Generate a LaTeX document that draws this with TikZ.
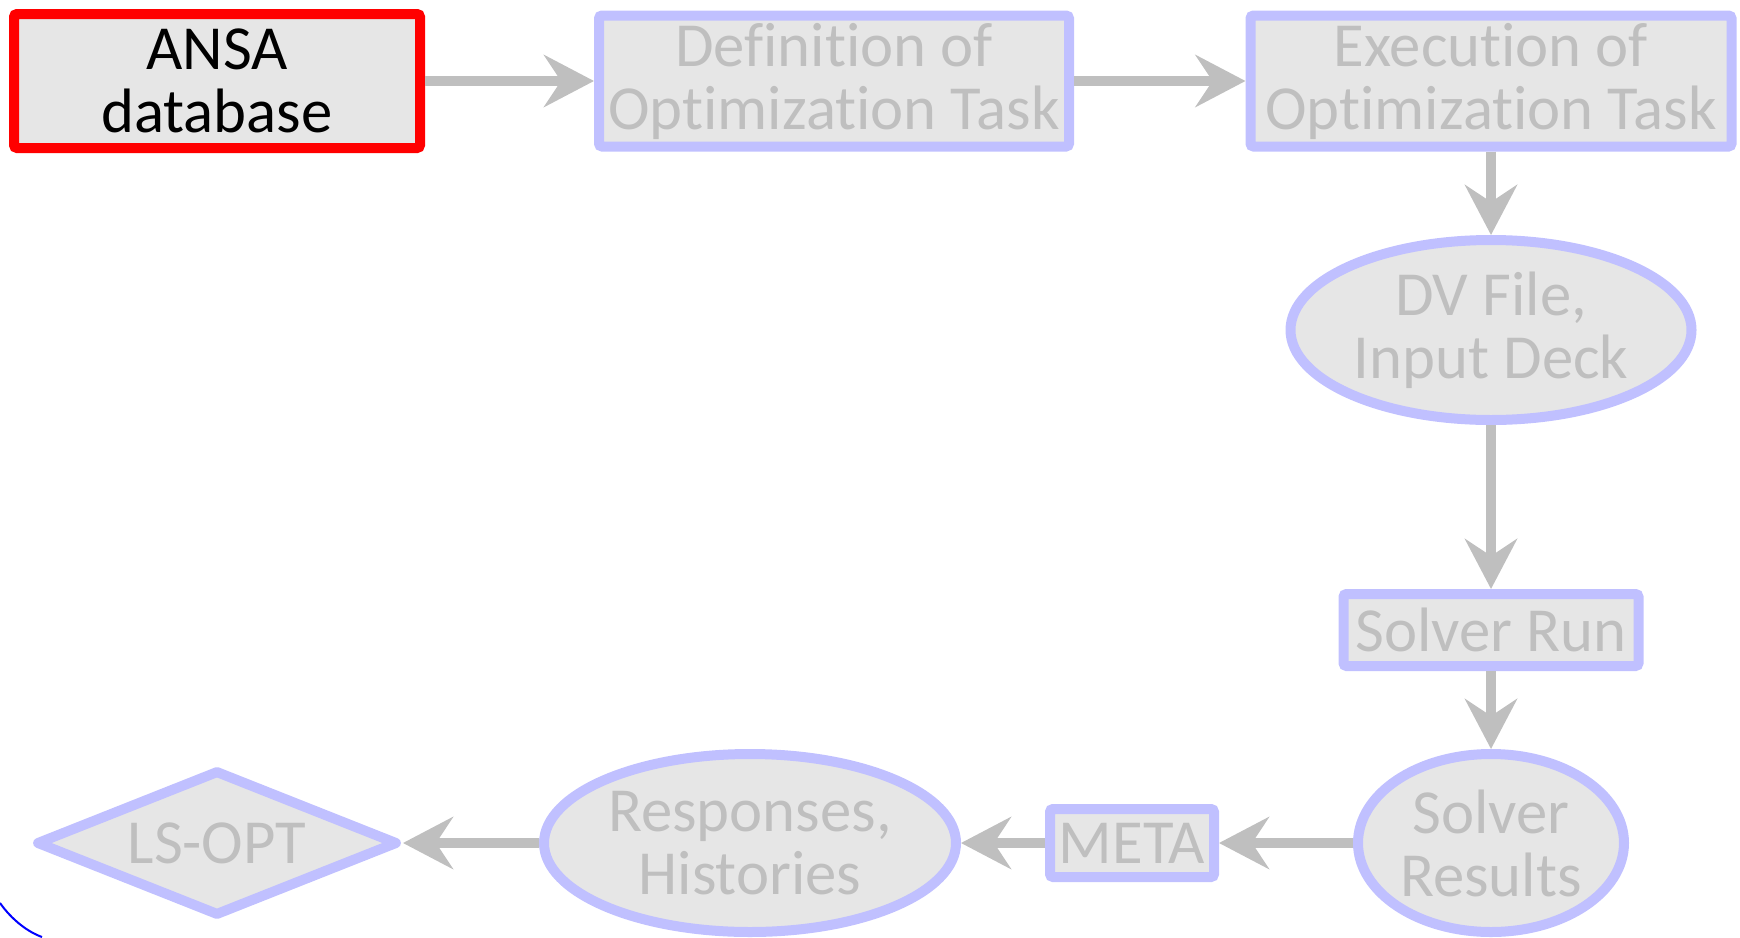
\documentclass[tikz,border=0pt]{standalone}
\usepackage{fontspec}
\setmainfont{Carlito}[Ligatures={NoCommon,NoContextual}, RawFeature={-liga;-clig;-calt}]
\usetikzlibrary{arrows.meta,shapes.geometric}
\definecolor{boxfill}{RGB}{230,230,230}
\definecolor{boxline}{RGB}{192,192,255}
\definecolor{flowgray}{RGB}{191,191,191}
\begin{document}
\begin{tikzpicture}[x=1pt, y=-1pt,
    every node/.style={font=\fontsize{62.7}{63}\selectfont, align=center, inner sep=0pt},
    task/.style={draw=boxline, line width=10pt, fill=boxfill, text=flowgray, rounded corners=3pt},
    oval/.style={ellipse, draw=boxline, line width=10pt, fill=boxfill, text=flowgray, inner sep=-3pt},
    flow/.style={draw=flowgray, line width=10pt, -{Stealth[length=50pt, width=52pt, inset=17pt]}}]
    \useasboundingbox (0,0) rectangle (1740,937);
    % Top row
    \node[task, draw=red, text=black, minimum width=406pt, minimum height=134pt] (ansa) at (217,81) {ANSA\\database};
    \node[task, minimum width=470pt, minimum height=131pt] (defn) at (834,81) {Definition of\\Optimization Task};
    \node[task, minimum width=481pt, minimum height=131pt] (exec) at (1491,81) {Execution of\\Optimization Task};
    % Right column
    \node[oval, minimum width=401pt, minimum height=180pt] (dv) at (1491,330) {DV File,\\Input Deck};
    \node[task, minimum width=295pt, minimum height=72pt] (run) at (1491,630) {Solver Run};
    % Bottom row
    \node[oval, minimum width=266pt, minimum height=178pt] (results) at (1491,843) {Solver\\Results};
    \node[task, minimum width=164pt, minimum height=68pt] (meta) at (1132,843) {META};
    \node[oval, minimum width=412pt, minimum height=178pt] (resp) at (750,843) {Responses,\\Histories};
    \node[diamond, draw=boxline, line width=10pt, fill=boxfill, text=flowgray, aspect=2.6, line join=round, minimum width=362pt, minimum height=146pt] (lsopt) at (217,843) {LS-OPT};
    % Flow
    \draw[flow] (ansa) -- (defn);
    \draw[flow] (defn) -- (exec);
    \draw[flow] (exec) -- (dv);
    \draw[flow] (dv) -- (run);
    \draw[flow] (run) -- (results);
    \draw[flow] (results) -- (meta);
    \draw[flow] (meta) -- (resp);
    \draw[flow] (resp) -- (lsopt);
    % Arc in the corner
    \draw[blue, line width=2pt] (0,903) .. controls (12,920) and (28,932) .. (42,937);
\end{tikzpicture}
\end{document}
